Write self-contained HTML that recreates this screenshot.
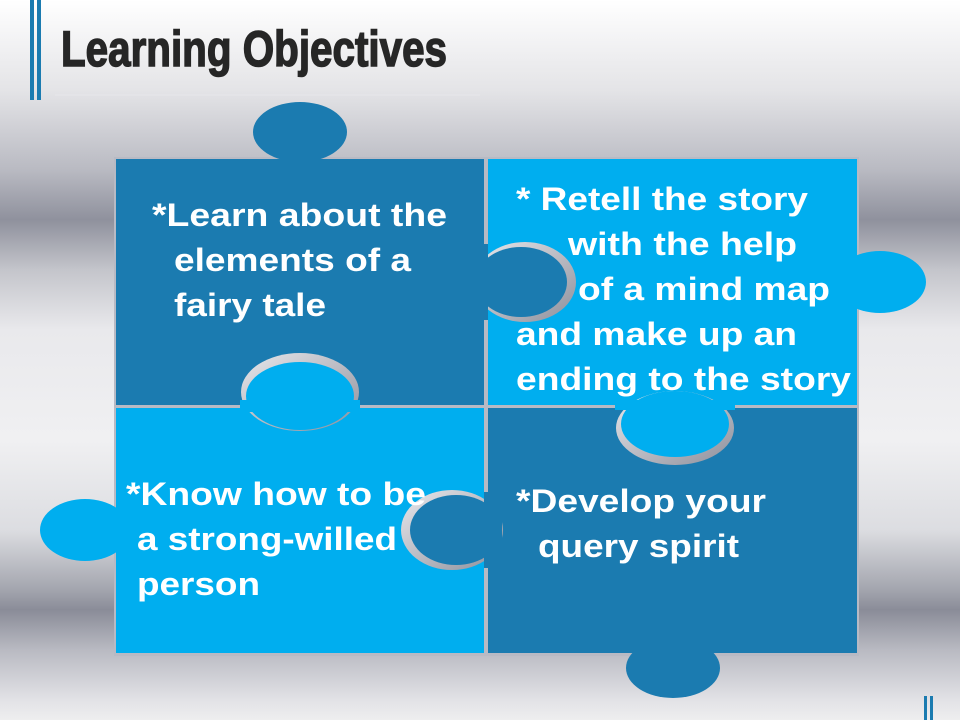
<!DOCTYPE html>
<html><head><style>
html,body{margin:0;padding:0;width:960px;height:720px;overflow:hidden}
body{background:linear-gradient(180deg,#ffffff 0px,#e4e4e7 90px,#b9bac2 170px,#8f919d 220px,#c4c5cb 270px,#e9e9ec 330px,#f0f0f2 440px,#dcdde1 530px,#a3a5ae 590px,#8a8c98 610px,#b9bac2 650px,#e2e2e6 700px,#eeeeef 720px)}
</style></head><body>
<svg width="960" height="720" style="position:absolute;left:0;top:0" font-family="Liberation Sans, sans-serif">
<defs><linearGradient id="g" x1="0" y1="0" x2="1" y2="1"><stop offset="0" stop-color="#e8e8ec"/><stop offset="1" stop-color="#8e909c"/></linearGradient></defs>
<rect x="30" y="0" width="4" height="100" fill="#1b7bb0"/>
<rect x="37" y="0" width="4" height="100" fill="#1b7bb0"/>
<line x1="55" y1="95" x2="480" y2="95" stroke="#e6e6ea" stroke-width="1"/>
<text x="61" y="66" font-family="Liberation Sans Narrow, Liberation Sans, sans-serif" font-size="50" font-weight="bold" fill="#262626" stroke="#262626" stroke-width="1.5" textLength="386" lengthAdjust="spacingAndGlyphs">Learning Objectives</text>
<rect x="924" y="696" width="3" height="24" fill="#1b7bb0"/><rect x="930" y="696" width="3" height="24" fill="#1b7bb0"/>
<rect x="114" y="157" width="745" height="499" fill="#b8bac4"/>
<ellipse cx="300" cy="132" rx="47" ry="30" fill="#1b7bb0"/>
<ellipse cx="673" cy="668" rx="47" ry="30" fill="#1b7bb0"/>
<ellipse cx="880" cy="282" rx="46" ry="31" fill="#00aeef"/>
<ellipse cx="85" cy="530" rx="45" ry="31" fill="#00aeef"/>
<rect x="116" y="159" width="368" height="246" fill="#1b7bb0"/>
<rect x="488" y="159" width="369" height="246" fill="#00aeef"/>
<rect x="116" y="408" width="368" height="245" fill="#00aeef"/>
<rect x="488" y="408" width="369" height="245" fill="#1b7bb0"/>
<ellipse cx="525" cy="282" rx="51" ry="40" fill="url(#g)"/>
<ellipse cx="521" cy="282" rx="46" ry="35" fill="#1b7bb0"/>
<rect x="470" y="244" width="18" height="76" fill="#1b7bb0"/>
<ellipse cx="300" cy="392" rx="59" ry="39" fill="url(#g)"/>
<ellipse cx="300" cy="396" rx="54" ry="34" fill="#00aeef"/>
<rect x="240" y="400" width="120" height="12" fill="#00aeef"/>
<ellipse cx="675" cy="428" rx="59" ry="37" fill="url(#g)"/>
<ellipse cx="675" cy="424" rx="54" ry="33" fill="#00aeef"/>
<rect x="615" y="400" width="120" height="10" fill="#00aeef"/>
<ellipse cx="452" cy="530" rx="51" ry="40" fill="url(#g)"/>
<ellipse cx="456" cy="530" rx="46" ry="35" fill="#1b7bb0"/>
<rect x="484" y="492" width="18" height="76" fill="#1b7bb0"/>
<g fill="#fff" font-weight="bold" font-size="32" lengthAdjust="spacingAndGlyphs">
<text x="152" y="226" textLength="295" lengthAdjust="spacingAndGlyphs">*Learn about the</text>
<text x="174" y="271" textLength="237" lengthAdjust="spacingAndGlyphs">elements of a</text>
<text x="174" y="316" textLength="152" lengthAdjust="spacingAndGlyphs">fairy tale</text>
<text x="516" y="210" textLength="292" lengthAdjust="spacingAndGlyphs">* Retell the story</text>
<text x="568" y="255" textLength="229" lengthAdjust="spacingAndGlyphs">with the help</text>
<text x="578" y="300" textLength="252" lengthAdjust="spacingAndGlyphs">of a mind map</text>
<text x="516" y="345" textLength="281" lengthAdjust="spacingAndGlyphs">and make up an</text>
<text x="516" y="390" textLength="335" lengthAdjust="spacingAndGlyphs">ending to the story</text>
<text x="126" y="505" textLength="300" lengthAdjust="spacingAndGlyphs">*Know how to be</text>
<text x="137" y="550" textLength="260" lengthAdjust="spacingAndGlyphs">a strong-willed</text>
<text x="137" y="595" textLength="123" lengthAdjust="spacingAndGlyphs">person</text>
<text x="516" y="512" textLength="250" lengthAdjust="spacingAndGlyphs">*Develop your</text>
<text x="538" y="557" textLength="201" lengthAdjust="spacingAndGlyphs">query spirit</text>
</g>
</svg>
</body></html>
